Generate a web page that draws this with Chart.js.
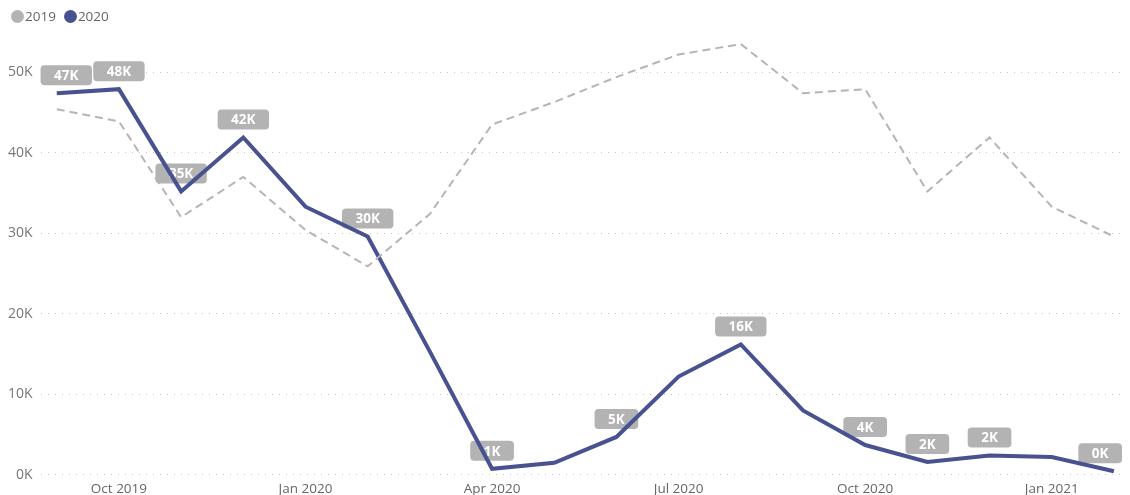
<!DOCTYPE html>
<html>
<head>
<meta charset="utf-8">
<script src="https://cdn.jsdelivr.net/npm/chart.js@4"></script>
<style>
  body { margin: 0; background: #fff; }
  #wrap { position: relative; width: 1130px; height: 495px; }
  #legend { position: absolute; left: 11px; top: 7px; font: 13.5px "Open Sans", sans-serif; color: #666; }
  #legend span { display: inline-block; margin-right: 8px; }
  #legend i { display: inline-block; width: 13px; height: 13px; border-radius: 50%; vertical-align: -2px; margin-right: 1px; }
</style>
</head>
<body>
<div id="wrap">
  <canvas id="myChart" width="1130" height="495"></canvas>
  <div id="legend"><span><i style="background:#b3b3b3"></i>2019</span><span><i style="background:#485290"></i>2020</span></div>
</div>
<script>
var months = ['Sep 2019','Oct 2019','Nov 2019','Dec 2019','Jan 2020','Feb 2020','Mar 2020','Apr 2020','May 2020','Jun 2020',
  'Jul 2020','Aug 2020','Sep 2020','Oct 2020','Nov 2020','Dec 2020','Jan 2021','Feb 2021'];
var values2019 = [45400,43900,32000,37000,30400,25900,32400,43500,46300,49400,52200,53500,47400,47900,35200,41900,33300,29600];
var values2020 = [47400,47900,35200,41900,33300,29600,15300,750,1500,4700,12200,16200,8000,3700,1600,2400,2200,450];
var labelIdx = [0,1,2,3,5,7,9,11,13,14,15,17];   // points that carry a data label
var yTicks = [0,10000,20000,30000,40000,50000];

function pts(arr) { return arr.map(function (v, i) { return {x: i, y: v}; }); }

var labelPlugin = {
  id: 'valueLabels',
  beforeDatasetsDraw: function (chart) {
    var c = chart.ctx, area = chart.chartArea;
    var meta = chart.getDatasetMeta(1);
    c.save();
    c.font = 'bold 13.5px "Open Sans", sans-serif';
    c.textAlign = 'center';
    c.textBaseline = 'middle';
    labelIdx.forEach(function (i) {
      var p = meta.data[i];
      var txt = Math.round(values2020[i] / 1000) + 'K';
      var w = c.measureText(txt).width + 27, h = 20;
      var cx = Math.min(Math.max(p.x, area.left + w / 2), area.right - w / 2);
      var cy = p.y - 18;
      c.fillStyle = 'rgba(168,168,168,0.88)';
      c.beginPath();
      c.roundRect(cx - w / 2, cy - h / 2, w, h, 4);
      c.fill();
      c.fillStyle = '#fff';
      c.fillText(txt, cx, cy + 1);
    });
    c.restore();
  }
};

new Chart(document.getElementById('myChart'), {
  type: 'line',
  data: {
    datasets: [{
      label: '2019',
      data: pts(values2019),
      borderColor: '#b5b5b5',
      borderWidth: 2,
      borderDash: [8, 5],
      pointRadius: 0,
      fill: false
    }, {
      label: '2020',
      data: pts(values2020),
      borderColor: '#485290',
      borderWidth: 4,
      pointRadius: 0,
      fill: false
    }]
  },
  options: {
    responsive: false,
    animation: false,
    layout: { padding: { top: 32, left: 0, right: 8, bottom: -8 } },
    plugins: { legend: { display: false }, tooltip: { enabled: false } },
    scales: {
      x: {
        type: 'linear',
        min: -0.26,
        max: 17.13,
        grid: { display: false, drawTicks: false },
        border: { display: false },
        afterBuildTicks: function (axis) {
          axis.ticks = months.map(function (m, i) { return {value: i}; }).filter(function (t) { return t.value % 3 === 1; });
        },
        ticks: {
          autoSkip: false,
          maxRotation: 0,
          padding: 6,
          color: '#666',
          font: { family: 'Open Sans', size: 13.5 },
          callback: function (v) { return months[v]; }
        }
      },
      y: {
        min: 0,
        max: 55000,
        border: { display: false, dash: [1, 6] },
        grid: { color: '#c4c4c4', lineWidth: 1, drawTicks: false },
        afterBuildTicks: function (axis) {
          axis.ticks = yTicks.map(function (v) { return {value: v}; });
        },
        ticks: {
          padding: 8,
          color: '#777',
          font: { family: 'Open Sans', size: 14 },
          callback: function (v) { return (v / 1000) + 'K'; }
        }
      }
    }
  },
  plugins: [labelPlugin]
});
</script>
</body>
</html>
